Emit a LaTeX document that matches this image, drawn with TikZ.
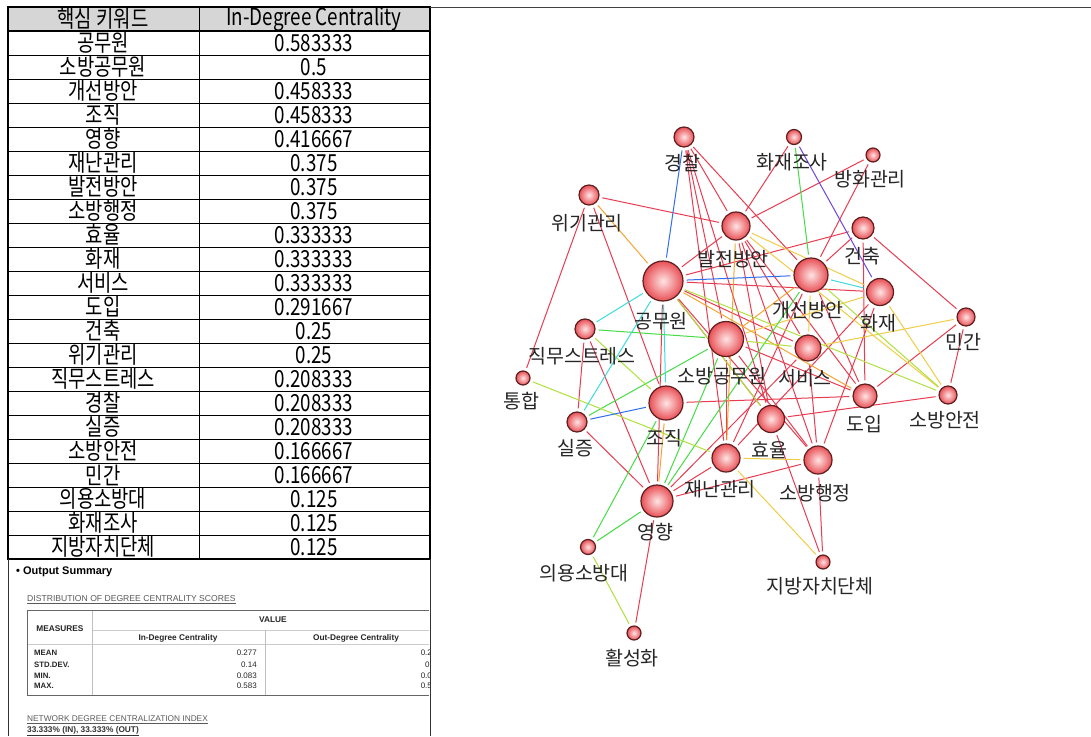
\documentclass[tikz,border=0pt]{standalone}
\usepackage{fontspec}
\setmainfont{Noto Sans CJK KR}
\newfontfamily\tabfont[FakeStretch=0.8]{Noto Sans CJK KR}
\newfontfamily\arialfont{Liberation Sans}
\usetikzlibrary{backgrounds}
\definecolor{cr}{RGB}{232,60,80}
\definecolor{cy}{RGB}{240,205,70}
\definecolor{co}{RGB}{245,165,50}
\definecolor{cg}{RGB}{70,220,70}
\definecolor{cyg}{RGB}{175,225,60}
\definecolor{cc}{RGB}{60,220,220}
\definecolor{cb}{RGB}{50,110,240}
\definecolor{cp}{RGB}{110,70,220}
\definecolor{ballin}{RGB}{255,228,228}
\definecolor{ballout}{RGB}{232,80,86}
\definecolor{ballrim}{RGB}{95,30,30}
\definecolor{hdrgrey}{RGB}{214,214,214}
\definecolor{txtgrey}{RGB}{90,90,90}
\tikzset{
  ball/.style={circle, draw=ballrim, line width=1.2pt, shading=radial,
    inner color=ballin, outer color=ballout, inner sep=0pt, minimum size=#1},
  lbl/.style={font=\fontsize{19.5}{19.5}\selectfont, inner sep=0pt, text=black!85},
  edge/.style={line width=1pt, shorten <=3pt, shorten >=3pt},
  tabtext/.style={font=\tabfont\fontsize{23.5}{23.5}\selectfont, inner sep=0pt},
  smallbold/.style={font=\arialfont\bfseries\fontsize{7.8}{7.8}\selectfont, inner sep=0pt, text=black!85},
  smallhead/.style={font=\arialfont\bfseries\fontsize{8.3}{8.3}\selectfont, inner sep=0pt, text=black!85},
  smallval/.style={font=\arialfont\fontsize{8}{8}\selectfont, inner sep=0pt, text=black!85}
}
\begin{document}
\begin{tikzpicture}[x=1pt,y=-1pt]
\useasboundingbox (0,0) rectangle (1091,736);

% ---------------- table ----------------
\fill[hdrgrey] (8,7) rectangle (430,31);
\foreach \i in {1,...,21} \draw[line width=0.8pt] (8,{31+24*\i}) -- (430,{31+24*\i});
\draw[line width=1.6pt] (8,31) -- (430,31);
\draw[line width=0.9pt] (199,7) -- (199,559);
\draw[line width=2.6pt] (8,7) rectangle (430,559);
\node[tabtext] (h1) at (103,19) {핵심 키워드};
\node[tabtext] (h2) at (314,19) {In-Degree Centrality};
\foreach \k/\v [count=\i from 0] in {공무원/0.583333, 소방공무원/0.5, 개선방안/0.458333, 조직/0.458333, 영향/0.416667, 재난관리/0.375, 발전방안/0.375, 소방행정/0.375, 효율/0.333333, 화재/0.333333, 서비스/0.333333, 도입/0.291667, 건축/0.25, 위기관리/0.25, 직무스트레스/0.208333, 경찰/0.208333, 실증/0.208333, 소방안전/0.166667, 민간/0.166667, 의용소방대/0.125, 화재조사/0.125, 지방자치단체/0.125}{
  \node[tabtext] (k\i) at (103,{43+24*\i}) {\k};
  \node[tabtext] (v\i) at (314,{43+24*\i}) {\v};
}

% ---------------- frame lines ----------------
\draw[line width=0.9pt, black!80] (8,559) -- (8,736);
\draw[line width=0.9pt, black!80] (430,559) -- (430,736);
\draw[line width=0.8pt, black!75] (430,7) -- (1091,7);

% ---------------- output summary ----------------
\node[font=\arialfont\bfseries\fontsize{11}{11}\selectfont, inner sep=0pt, anchor=west] (os) at (16,572) {\textbullet\ Output Summary};
\node[font=\arialfont\fontsize{8.6}{8.6}\selectfont, text=txtgrey, inner sep=0pt, anchor=west] (ds) at (27,600) {\underline{DISTRIBUTION OF DEGREE CENTRALITY SCORES}};
\draw[black!20, line width=0.7pt] (92,630) -- (429,630);
\draw[black!20, line width=0.7pt] (27,644) -- (429,644);
\draw[black!25, line width=0.7pt] (265,630) -- (265,695);
\draw[black!25, line width=0.7pt] (92,610) -- (92,695);
\draw[black!60, line width=0.9pt] (429,610) -- (27,610) -- (27,695) -- (429,695);
\node[smallhead] (ms) at (60,629) {MEASURES};
\node[smallhead] (va) at (273,620) {VALUE};
\node[smallhead] (ic) at (178,638) {In-Degree Centrality};
\node[smallhead] (oc) at (356,638) {Out-Degree Centrality};
\foreach \m/\v/\y in {MEAN/0.277/653, STD.DEV./0.14/665, MIN./0.083/676, MAX./0.583/686}{
  \node[smallbold, anchor=west] at (34,\y) {\m};
  \node[smallval, anchor=east] at (257,\y) {\v};
}
\begin{scope}
\clip (266,645) rectangle (429,694);
\foreach \v/\y in {0.277/653, 0.14/665, 0.083/676, 0.583/686}{
  \node[smallval, anchor=east] at (441,\y) {\v};
}
\end{scope}
\node[font=\arialfont\fontsize{8.3}{8.3}\selectfont, text=txtgrey, inner sep=0pt, anchor=west] (ni) at (27,720) {\underline{NETWORK DEGREE CENTRALIZATION INDEX}};
\node[font=\arialfont\bfseries\fontsize{8.3}{8.3}\selectfont, text=black!80, inner sep=0pt, anchor=west] (np) at (27,731) {\underline{33.333\% (IN), 33.333\% (OUT)}};

% ---------------- network nodes ----------------
\node[ball=20pt] (gc) at (684,137) {};
\node[ball=15pt] (hj) at (794,137) {};
\node[ball=14pt] (bh) at (873,155) {};
\node[ball=20pt] (wg) at (589,195) {};
\node[ball=28pt] (bj) at (736,226) {};
\node[ball=22pt] (gch) at (863,228) {};
\node[ball=40pt] (gm) at (663,281) {};
\node[ball=34pt] (gs) at (811,275) {};
\node[ball=27pt] (hw) at (880,292) {};
\node[ball=18pt] (mg) at (966,317) {};
\node[ball=20pt] (jm) at (585,329) {};
\node[ball=35pt] (sg) at (726,339) {};
\node[ball=26pt] (sv) at (808,348) {};
\node[ball=14pt] (th) at (523,378) {};
\node[ball=24pt] (di) at (865,396) {};
\node[ball=18pt] (sa) at (948,395) {};
\node[ball=34pt] (jj) at (666,403) {};
\node[ball=20pt] (sj) at (577,422) {};
\node[ball=27pt] (hy) at (771,419) {};
\node[ball=28pt] (jn) at (726,458) {};
\node[ball=28pt] (sh) at (818,460) {};
\node[ball=32pt] (yh) at (657,501) {};
\node[ball=15pt] (ey) at (588,547) {};
\node[ball=14pt] (jb) at (823,562) {};
\node[ball=14pt] (hs) at (634,633) {};

% ---------------- edges (behind) ----------------
\begin{scope}[on background layer]
\fill[white] (0,0) rectangle (1091,736);
\foreach \a/\b in {gc/bj, gc/sg, gc/hy, gc/gs, gc/jn, hj/bj, bh/bj, bh/gs, wg/bj, wg/th, wg/jj,
  gch/mg, gch/gm, gch/di, gch/gs, bj/sh, bj/sv, bj/hy, gm/sv, gm/hw, gm/sh, gm/yh, gm/hy,
  jm/sj, jm/yh, sj/yh, sg/di, sg/sh, sv/yh, mg/di, mg/sa, sa/hy, hw/sh, jj/di, yh/sh,
  hy/jb, sh/jb, yh/hs, jn/yh, gs/di, sg/jn, gs/jn, hw/jn, bj/di, gm/bj, sv/sh}
  \draw[edge, cr] (\a) -- (\b);
\foreach \a/\b in {bj/hw, hw/sa, sv/mg, jn/jb, jn/sh, sg/hw, gs/sv, bj/sa}
  \draw[edge, cy] (\a) -- (\b);
\foreach \a/\b in {wg/gm, jj/yh, sg/gs, gm/di, bj/jn}
  \draw[edge, co] (\a) -- (\b);
\foreach \a/\b in {hj/gs, jj/ey, yh/ey, sg/yh, sg/sj, jm/sg, gs/yh}
  \draw[edge, cg] (\a) -- (\b);
\foreach \a/\b in {th/jn, jm/jj, gm/sa, gs/sa, ey/hs, gm/hy, sg/sv}
  \draw[edge, cyg] (\a) -- (\b);
\foreach \a/\b in {gm/jj, jm/gm, gm/sj, gs/hw}
  \draw[edge, cc] (\a) -- (\b);
\foreach \a/\b in {gc/gm, gm/gs, sj/jj}
  \draw[edge, cb] (\a) -- (\b);
\foreach \a/\b in {hj/hw}
  \draw[edge, cp] (\a) -- (\b);
\end{scope}

% ---------------- labels ----------------
\node[lbl] (gc-l) at (682,163) {경찰};
\node[lbl] (hj-l) at (792,162) {화재조사};
\node[lbl] (bh-l) at (870,179) {방화관리};
\node[lbl] (wg-l) at (587,223) {위기관리};
\node[lbl] (bj-l) at (733,259) {발전방안};
\node[lbl] (gch-l) at (862,256) {건축};
\node[lbl] (gm-l) at (661,321) {공무원};
\node[lbl] (gs-l) at (808,310) {개선방안};
\node[lbl] (hw-l) at (878,323) {화재};
\node[lbl] (mg-l) at (963,342) {민간};
\node[lbl] (jm-l) at (582,356) {직무스트레스};
\node[lbl] (sg-l) at (722,376) {소방공무원};
\node[lbl] (sv-l) at (805,378) {서비스};
\node[lbl] (th-l) at (521,401) {통합};
\node[lbl] (di-l) at (864,424) {도입};
\node[lbl] (sa-l) at (945,420) {소방안전};
\node[lbl] (jj-l) at (664,438) {조직};
\node[lbl] (sj-l) at (575,448) {실증};
\node[lbl] (hy-l) at (769,450) {효율};
\node[lbl] (jn-l) at (720,489) {재난관리};
\node[lbl] (sh-l) at (815,493) {소방행정};
\node[lbl] (yh-l) at (655,532) {영향};
\node[lbl] (ey-l) at (584,573) {의용소방대};
\node[lbl] (jb-l) at (820,586) {지방자치단체};
\node[lbl] (hs-l) at (632,658) {활성화};
\end{tikzpicture}
\end{document}
